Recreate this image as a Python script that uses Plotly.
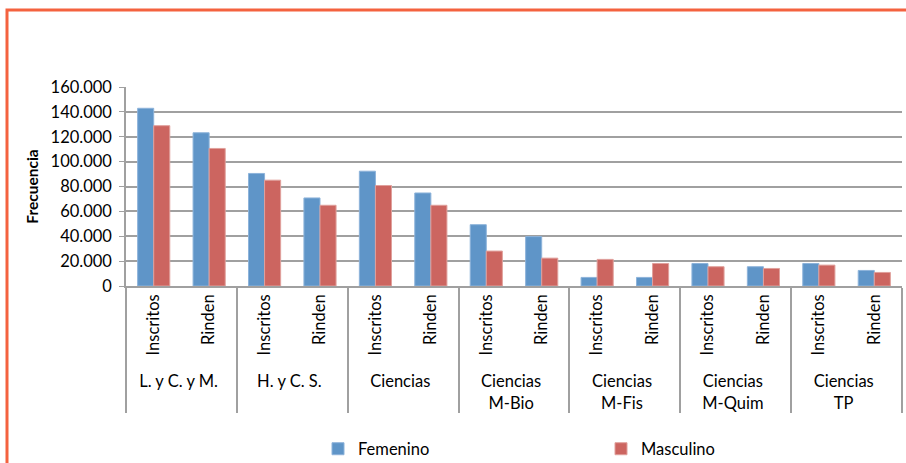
import plotly.graph_objects as go

groups = ["L. y C. y M.", "H. y C. S.", "Ciencias", "Ciencias<br>M-Bio",
          "Ciencias<br>M-Fis", "Ciencias<br>M-Quim", "Ciencias<br>TP"]
subs = ["Inscritos", "Rinden"]

femenino = [142900, 123200, 90500, 70800, 92300, 74800, 49300, 39700,
            6900, 6900, 18100, 15500, 18100, 12500]
masculino = [128900, 110600, 85100, 64900, 80800, 64900, 28100, 22400,
             21400, 18100, 15500, 14100, 16800, 10900]

outer = [g for g in groups for _ in subs]
inner = [s for _ in groups for s in subs]

FONT = "Lato"
FS = 16.5

fig = go.Figure()
fig.add_trace(go.Bar(x=[outer, inner], y=femenino, name="Femenino",
                     marker=dict(color="#5F95C8", line=dict(color="#8DB3DA", width=1))))
fig.add_trace(go.Bar(x=[outer, inner], y=masculino, name="Masculino",
                     marker=dict(color="#CC6560", line=dict(color="#E0A09C", width=1))))

L, R, T, B = 126, 4, 87, 177
W, H = 906, 463
pw, ph = W - L - R, H - T - B

def px(x):
    return (x - L) / pw

def py(y):
    return (H - B - y) / ph

fig.add_shape(type="rect", xref="paper", yref="paper",
              x0=px(7), x1=px(960), y0=py(520), y1=py(10),
              line=dict(color="#F4623F", width=3), fillcolor="rgba(0,0,0,0)", layer="above")

fig.update_layout(
    width=W, height=H,
    margin=dict(l=L, r=R, t=T, b=B, autoexpand=False),
    paper_bgcolor="white", plot_bgcolor="white",
    separators=",.",
    barmode="group", bargap=0.42, bargroupgap=0,
    font=dict(family=FONT, size=FS, color="#000000"),
    showlegend=True,
    legend=dict(orientation="h", x=px(318), xanchor="left", y=py(449), yanchor="middle",
                entrywidth=238, entrywidthmode="pixels", font=dict(size=FS),
                traceorder="normal"),
    xaxis=dict(type="multicategory", tickangle=-90, showline=True, linecolor="#A0A0A0",
               linewidth=1.5, showdividers=True, dividercolor="#A0A0A0", dividerwidth=1.5,
               ticks="", tickfont=dict(size=FS), showgrid=False, automargin=False),
    yaxis=dict(range=[0, 160000], dtick=20000, tickformat=",d", showgrid=True,
               gridcolor="#A0A0A0", gridwidth=1.5, showline=True, linecolor="#A0A0A0",
               linewidth=1.5, ticks="outside", ticklen=5, tickcolor="#A0A0A0",
               ticklabelstandoff=4,
               tickfont=dict(size=FS), zeroline=False, automargin=False,
               title=dict(text="<b>Frecuencia</b>", font=dict(size=15.5), standoff=8)),
)

fig.write_html("out.html", config={"displayModeBar": False},
               post_script="document.body.style.margin='0';document.body.style.overflow='hidden';")
